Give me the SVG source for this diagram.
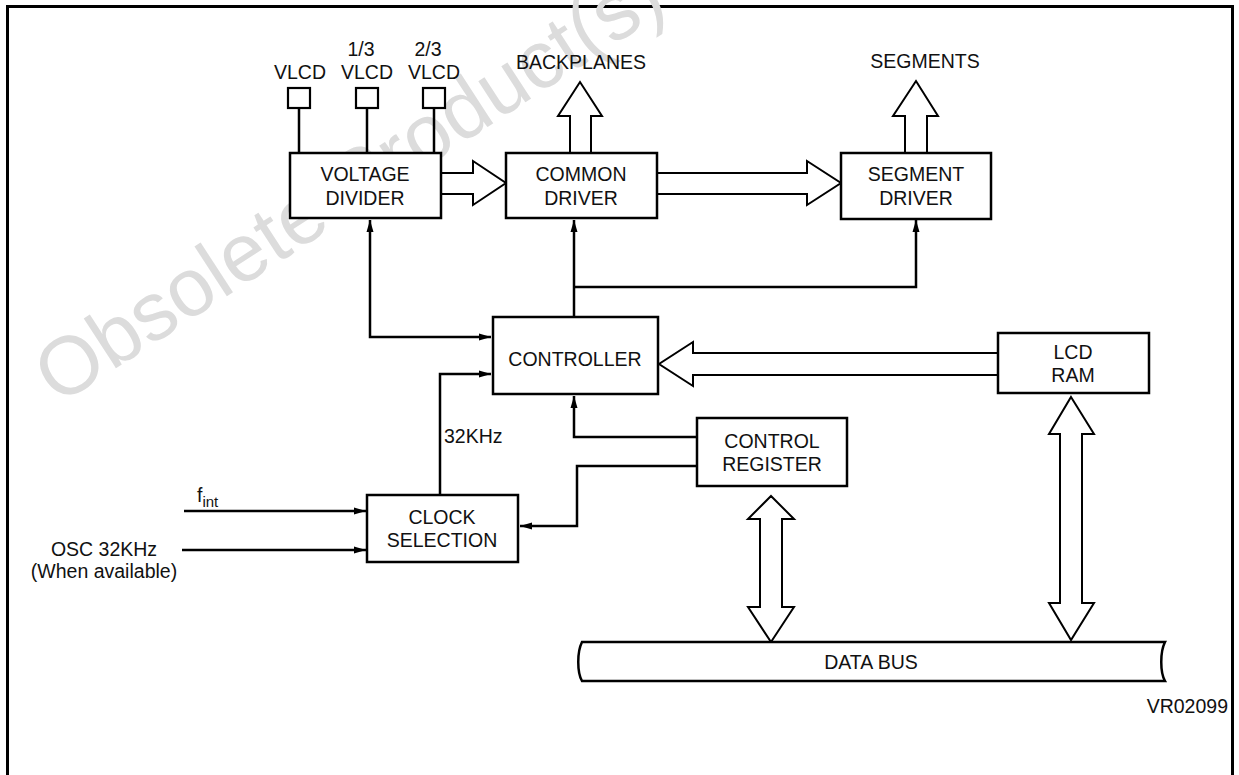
<svg xmlns="http://www.w3.org/2000/svg" width="1239" height="775" viewBox="0 0 1239 775">
<defs>
<style>
text{font-family:"Liberation Sans",Arial,Helvetica,sans-serif;font-size:19.5px;fill:#111}
.c{text-anchor:middle}
.box{fill:#fff;stroke:#000;stroke-width:2.5}
.pad{fill:#fff;stroke:#000;stroke-width:2.2}
.ln{fill:none;stroke:#000;stroke-width:2.5}
.hol{fill:#fff;stroke:#000;stroke-width:2;stroke-linejoin:miter}
.wm{font-size:82px;fill:#dcdcdc}
</style>
<marker id="ah" markerUnits="userSpaceOnUse" markerWidth="12" markerHeight="8" refX="12" refY="4" orient="auto-start-reverse">
<path d="M0,0.5 L12,4 L0,7.5 Z" fill="#000"/>
</marker>
</defs>
<rect width="1239" height="775" fill="#fff"/>
<rect x="7.5" y="6.5" width="1225" height="820" fill="none" stroke="#000" stroke-width="3"/>
<text class="wm" transform="translate(58,406) rotate(-33)">Obsolete Product(s)</text>

<g id="connectors">
<path class="ln" d="M299,108 V153"/>
<path class="ln" d="M367,108 V153"/>
<path class="ln" d="M434,108 V153"/>
<path class="ln" d="M370,220 V337 H491" marker-start="url(#ah)" marker-end="url(#ah)"/>
<path class="ln" d="M574,317 V220" marker-end="url(#ah)"/>
<path class="ln" d="M574,287 H916 V220" marker-end="url(#ah)"/>
<path class="ln" d="M440,495 V374 H491" marker-end="url(#ah)"/>
<path class="ln" d="M697,437 H574 V396" marker-end="url(#ah)"/>
<path class="ln" d="M697,466 H577 V526 H520" marker-end="url(#ah)"/>
<path class="ln" d="M184,511 H366" marker-end="url(#ah)"/>
<path class="ln" d="M182,550 H366" marker-end="url(#ah)"/>
<polygon class="hol" points="441,173 473,173 473,161 506,183 473,205 473,194 441,194"/>
<polygon class="hol" points="657,173 807,173 807,161 841,183 807,205 807,194 657,194"/>
<polygon class="hol" points="570,153 570,116 558,116 580,82 602,116 591,116 591,153"/>
<polygon class="hol" points="905,153 905,116 893,116 916,81 938,116 927,116 927,153"/>
<polygon class="hol" points="998,353 693,353 693,342 659,364 693,386 693,375 998,375"/>
<polygon class="hol" points="771,496 794,519 782,519 782,607 794,607 771,642 748,607 760,607 760,519 748,519"/>
<polygon class="hol" points="1071,397 1094,434 1082,434 1082,603 1094,603 1071,640 1049,603 1060,603 1060,434 1049,434"/>
</g>

<g id="vlcd"><rect class="pad" x="288" y="88" width="22" height="20"/><text class="c" x="300" y="79">VLCD</text></g>
<g id="vlcd13"><rect class="pad" x="356" y="88" width="22" height="20"/><text class="c" x="361" y="56">1/3</text><text class="c" x="367" y="79">VLCD</text></g>
<g id="vlcd23"><rect class="pad" x="423" y="88" width="22" height="20"/><text class="c" x="428" y="56">2/3</text><text class="c" x="434" y="79">VLCD</text></g>

<g id="voltage-divider"><rect class="box" x="290" y="153" width="151" height="65"/><text class="c" x="365" y="181">VOLTAGE</text><text class="c" x="365" y="205">DIVIDER</text></g>
<g id="common-driver"><rect class="box" x="506" y="153" width="151" height="65"/><text class="c" x="581" y="181">COMMON</text><text class="c" x="581" y="205">DRIVER</text></g>
<g id="segment-driver"><rect class="box" x="841" y="153" width="150" height="66"/><text class="c" x="916" y="181">SEGMENT</text><text class="c" x="916" y="205">DRIVER</text></g>
<g id="backplanes"><text class="c" x="581" y="69">BACKPLANES</text></g>
<g id="segments"><text class="c" x="925" y="68">SEGMENTS</text></g>
<g id="controller"><rect class="box" x="493" y="317" width="165" height="77"/><text class="c" x="575" y="366">CONTROLLER</text></g>
<g id="lcd-ram"><rect class="box" x="998" y="333" width="151" height="60"/><text class="c" x="1073" y="359">LCD</text><text class="c" x="1073" y="382">RAM</text></g>
<g id="control-register"><rect class="box" x="697" y="418" width="150" height="68"/><text class="c" x="772" y="448">CONTROL</text><text class="c" x="772" y="471">REGISTER</text></g>
<g id="clock-selection"><rect class="box" x="367" y="495" width="151" height="67"/><text class="c" x="442" y="524">CLOCK</text><text class="c" x="442" y="547">SELECTION</text></g>
<g id="labels">
<text x="444" y="443">32KHz</text>
<text x="197" y="502">f<tspan font-size="15" dy="5">int</tspan></text>
<text class="c" x="104" y="556">OSC 32KHz</text>
<text class="c" x="104" y="578">(When available)</text>
<text x="1228" y="713" text-anchor="end">VR02099</text>
</g>
<g id="data-bus"><path class="box" d="M582,642 H1165 C1160,652 1160,672 1165,681 H582 C577,672 577,652 582,642 Z"/><text class="c" x="871" y="669">DATA BUS</text></g>
</svg>
